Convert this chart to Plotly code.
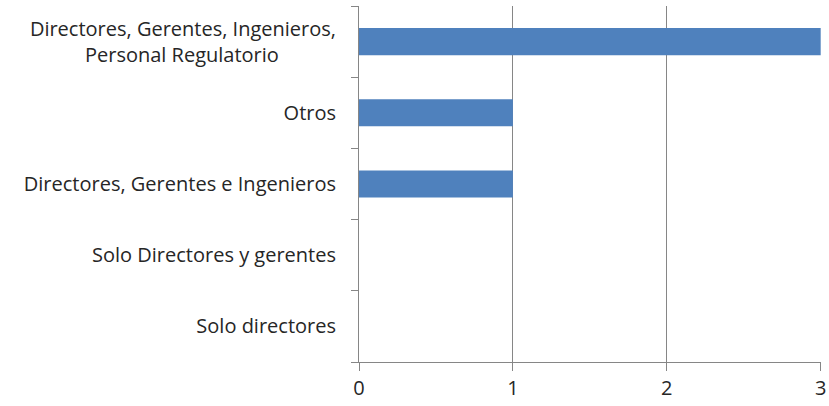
import plotly.graph_objects as go

categories = [
    "Solo directores",
    "Solo Directores y gerentes",
    "Directores, Gerentes e Ingenieros",
    "Otros",
    "Directores, Gerentes, Ingenieros,<br>Personal Regulatorio" + "\u00a0" * 11,
]
values = [0, 0, 1, 1, 3]
x_ticks = [0, 1, 2, 3]

fig = go.Figure(go.Bar(
    x=values, y=categories, orientation="h",
    marker=dict(color="#4F81BD", line=dict(width=0)),
    width=0.38,
))

fig.update_layout(
    width=829, height=406,
    margin=dict(l=359, r=8, t=6, b=44),
    plot_bgcolor="white", paper_bgcolor="white",
    font=dict(family="Open Sans", size=20, color="#262626"),
    showlegend=False,
)
fig.update_xaxes(
    range=[0, 3.002], tickvals=x_ticks, showgrid=True, gridcolor="#868686", gridwidth=1,
    zeroline=False, showline=True, linecolor="#868686", linewidth=1,
    ticks="outside", ticklen=8, tickcolor="#868686", ticklabelstandoff=0,
    automargin=False,
)
fig.update_yaxes(
    type="category", categoryorder="array", categoryarray=categories,
    showline=True, linecolor="#868686", linewidth=1, showgrid=False,
    ticks="outside", ticklen=7, tickcolor="#868686", tickson="boundaries",
    ticklabelstandoff=18, automargin=False,
)
fig.write_html("out.html", config={"displayModeBar": False},
               post_script="document.body.style.margin='0';")
